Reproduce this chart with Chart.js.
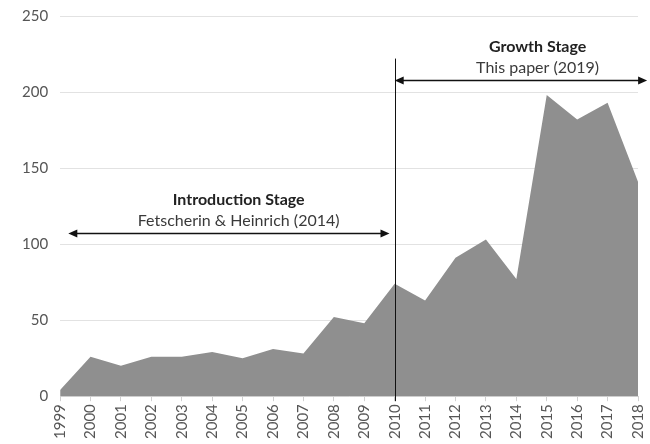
<!DOCTYPE html>
<html>
<head>
<meta charset="utf-8">
<script src="https://cdn.jsdelivr.net/npm/chart.js@4"></script>
<style>
  html, body { margin: 0; padding: 0; background: #fff; }
  #wrap { width: 650px; height: 444px; }
</style>
</head>
<body>
<div id="wrap"><canvas id="myChart"></canvas></div>
<script>
const years = ['1999', '2000', '2001', '2002', '2003', '2004', '2005', '2006', '2007', '2008',
               '2009', '2010', '2011', '2012', '2013', '2014', '2015', '2016', '2017', '2018'];
const publications = [4, 26, 20, 26, 26, 29, 25, 31, 28, 52, 48, 74, 63, 91, 103, 77, 198, 182, 193, 141];
const yTicks = [0, 50, 100, 150, 200, 250];

// stage annotations (x in category index, y in axis units)
const introStage = { from: 0.27, to: 10.83, y: 107.5, textX: 5.87, title: 'Introduction Stage', sub: 'Fetscherin & Heinrich (2014)' };
const growthStage = { from: 11, to: 19.3, y: 208, textX: 15.7, title: 'Growth Stage', sub: 'This paper (2019)' };
const splitYear = 11;
const splitTop = 222;

const font = 'Lato, "Open Sans", sans-serif';

function arrowHead(c, x, y, dir) {
    c.beginPath();
    c.moveTo(x, y);
    c.lineTo(x - dir * 9, y - 4);
    c.lineTo(x - dir * 9, y + 4);
    c.closePath();
    c.fill();
}

const stagePlugin = {
    id: 'stages',
    afterDatasetsDraw(chart) {
        const c = chart.ctx;
        const xs = chart.scales.x, ys = chart.scales.y;
        c.save();
        c.strokeStyle = '#111';
        c.fillStyle = '#111';
        c.lineWidth = 1;

        // divider at 2010
        const vx = Math.round(xs.getPixelForValue(splitYear)) + 0.5;
        c.beginPath();
        c.moveTo(vx, ys.getPixelForValue(splitTop));
        c.lineTo(vx, ys.getPixelForValue(0) + 5);
        c.stroke();

        [introStage, growthStage].forEach(s => {
            const x1 = xs.getPixelForValue(s.from), x2 = xs.getPixelForValue(s.to);
            const y = Math.round(ys.getPixelForValue(s.y)) + 0.5;
            c.lineWidth = 1.3;
            c.beginPath();
            c.moveTo(x1 + 4, y);
            c.lineTo(x2 - 4, y);
            c.stroke();
            arrowHead(c, x1, y, -1);
            arrowHead(c, x2, y, 1);

            const cx = xs.getPixelForValue(s.textX);
            c.textAlign = 'center';
            c.textBaseline = 'alphabetic';
            c.fillStyle = '#222';
            c.font = 'bold 16px ' + font;
            c.fillText(s.title, cx, y - 29);
            c.fillStyle = '#3a3a3a';
            c.font = '16px ' + font;
            c.fillText(s.sub, cx, y - 8);
            c.fillStyle = '#111';
        });
        c.restore();
    }
};

const ctx = document.getElementById('myChart').getContext('2d');
const myChart = new Chart(ctx, {
    type: 'line',
    data: {
        labels: years,
        datasets: [{
            data: publications,
            fill: 'origin',
            backgroundColor: '#8f8f8f',
            borderWidth: 0,
            pointRadius: 0,
            tension: 0
        }]
    },
    options: {
        responsive: true,
        maintainAspectRatio: false,
        animation: false,
        layout: { padding: { left: 10, right: 0, top: 0, bottom: 2 } },
        plugins: {
            legend: { display: false },
            tooltip: { enabled: false }
        },
        scales: {
            x: {
                offset: false,
                afterFit: (axis) => { axis.paddingRight = 12; },
                border: { color: '#d0d0d0' },
                grid: { drawOnChartArea: false, color: '#d0d0d0', tickLength: 5 },
                ticks: {
                    minRotation: 90,
                    maxRotation: 90,
                    autoSkip: false,
                    padding: 3,
                    color: '#555',
                    font: { family: font, size: 15 }
                }
            },
            y: {
                min: 0,
                max: 250,
                afterBuildTicks: (axis) => { axis.ticks = yTicks.map(v => ({ value: v })); },
                afterFit: (axis) => { axis.paddingTop = 16; },
                border: { display: false },
                grid: { color: '#e2e2e2', drawTicks: false },
                ticks: {
                    padding: 12,
                    color: '#555',
                    font: { family: font, size: 15 }
                }
            }
        }
    },
    plugins: [stagePlugin]
});
</script>
</body>
</html>
